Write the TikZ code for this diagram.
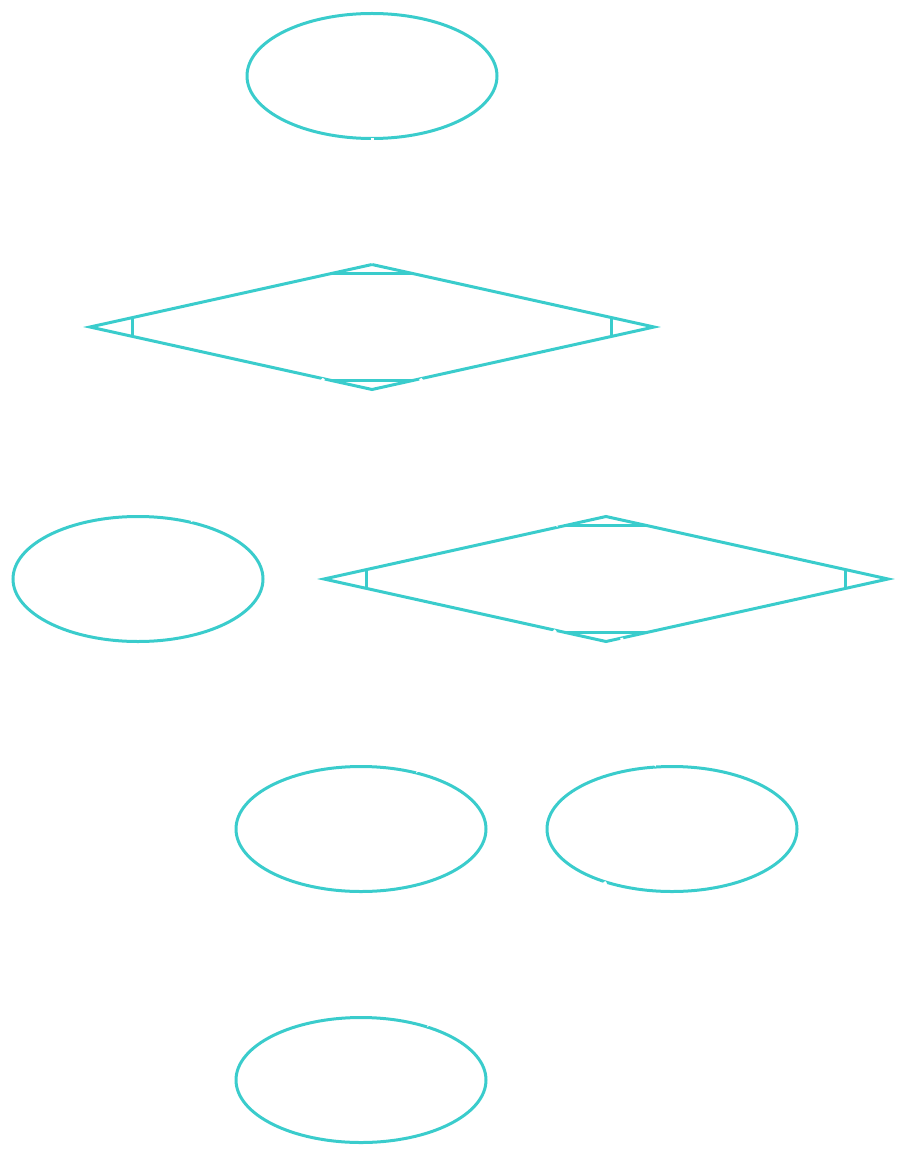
\documentclass[tikz,border=0pt]{standalone}
\usepackage{tikz}
\usetikzlibrary{arrows.meta, calc, shapes.geometric}
\definecolor{teal}{RGB}{58,204,204}

\begin{document}
\begin{tikzpicture}[>=Stealth, x=1pt, y=-1pt,
    oval/.style={draw=teal, line width=3pt, ellipse, inner sep=0pt, outer sep=0pt,
      minimum width=250pt, minimum height=125pt},
    decision/.style={draw=teal, line width=3pt, diamond, inner sep=0pt, outer sep=0pt,
      minimum width=564pt, minimum height=125pt},
    cut/.style={draw=teal, line width=3pt},
    link/.style={draw=white, line width=3pt, ->}]
  \useasboundingbox (0,0) rectangle (900,1158);
  \node[oval] (start) at (372,76) {};
  \node[decision] (D1) at (372,327) {};
  \node[oval] (L) at (138,579) {};
  \node[decision] (D2) at (606,579) {};
  \node[oval] (A) at (361,829) {};
  \node[oval] (B) at (672,829) {};
  \node[oval] (end) at (361,1080) {};
  % corner cuts of the decision boxes
  \foreach \d in {D1,D2} {
    \draw[cut] ($(\d.north)!0.145!(\d.west)$) -- ($(\d.north)!0.145!(\d.east)$);
    \draw[cut] ($(\d.south)!0.145!(\d.west)$) -- ($(\d.south)!0.145!(\d.east)$);
    \draw[cut] ($(\d.west)!0.15!(\d.north)$) -- ($(\d.west)!0.15!(\d.south)$);
    \draw[cut] ($(\d.east)!0.15!(\d.north)$) -- ($(\d.east)!0.15!(\d.south)$);
  }
  \draw[link] (start) -- (D1);
  \draw[link] (D1) -- (L);
  \draw[link] (D1) -- (D2);
  \draw[link] (D2) -- (A);
  \draw[link] (D2) -- (B);
  \draw[link] (B) -- (end);
\end{tikzpicture}
\end{document}
